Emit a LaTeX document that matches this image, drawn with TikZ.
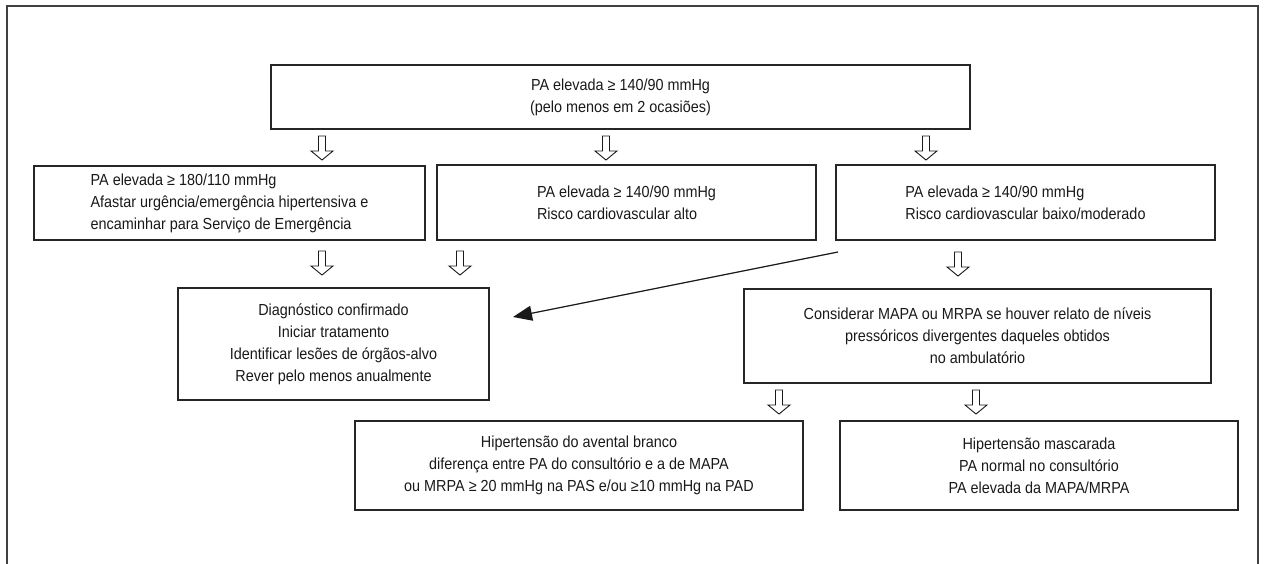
\documentclass[tikz,border=0pt]{standalone}
\usepackage{fontspec}
\setmainfont{Liberation Sans}[FakeStretch=0.9]
\usetikzlibrary{arrows.meta}
\tikzset{
  box/.style={draw=black!85, line width=1.2pt, align=center, inner sep=0pt,
    font=\fontsize{16}{22}\selectfont, text=black!90},
  lbox/.style={box, align=left},
  frame/.style={draw=black!75, line width=1.3pt},
  hol/.style={draw=black!90, line width=0.9pt, fill=white, line join=miter},
  diag/.style={draw=black!90, line width=1.2pt, -{Triangle[length=19pt,width=15pt]}}
}
\newcommand\hollowarrow[1]{%
  \path[hol] (#1) ++(-3.5,0) -- ++(7,0) -- ++(0,15) -- ++(7.5,0) -- ++(-11,9)
     -- ++(-11,-9) -- ++(7.5,0) -- cycle;}
\begin{document}
\begin{tikzpicture}[x=1pt,y=-1pt]
\useasboundingbox (0,0) rectangle (1266,564);
\draw[frame] (7,564) -- (7,6) -- (1258,6) -- (1258,564);

\node[box, minimum width=699pt, minimum height=64pt] (top) at (620.5,97)
  {PA elevada ≥ 140/90 mmHg\\(pelo menos em 2 ocasiões)};

\node[lbox, minimum width=391pt, minimum height=74pt] (a) at (229.5,203)
  {PA elevada ≥ 180/110 mmHg\\Afastar urgência/emergência hipertensiva e\\encaminhar para Serviço de Emergência};
\node[lbox, minimum width=379pt, minimum height=75pt] (b) at (626.5,202.5)
  {PA elevada ≥ 140/90 mmHg\\Risco cardiovascular alto};
\node[lbox, minimum width=379pt, minimum height=75pt] (c) at (1025.5,202.5)
  {PA elevada ≥ 140/90 mmHg\\Risco cardiovascular baixo/moderado};

\node[box, minimum width=311pt, minimum height=112pt] (d) at (333.5,344)
  {Diagnóstico confirmado\\Iniciar tratamento\\Identificar lesões de órgãos-alvo\\Rever pelo menos anualmente};
\node[box, minimum width=467pt, minimum height=94pt] (e) at (977.5,336)
  {Considerar MAPA ou MRPA se houver relato de níveis\\pressóricos divergentes daqueles obtidos\\no ambulatório};

\node[box, minimum width=448pt, minimum height=89pt] (f) at (579,465.5)
  {Hipertensão do avental branco\\diferença entre PA do consultório e a de MAPA\\ou MRPA ≥ 20 mmHg na PAS e/ou ≥10 mmHg na PAD};
\node[box, minimum width=398pt, minimum height=89pt] (g) at (1039,465.5)
  {Hipertensão mascarada\\PA normal no consultório\\PA elevada da MAPA/MRPA};

\coordinate (h1) at (322,136);
\coordinate (h2) at (606,136);
\coordinate (h3) at (926,136);
\coordinate (h4) at (322,251);
\coordinate (h5) at (460,251);
\coordinate (h6) at (958,252);
\coordinate (h7) at (779,390);
\coordinate (h8) at (976,390);
\foreach \h in {h1,h2,h3,h4,h5,h6,h7,h8} {\hollowarrow{\h}}

\coordinate (ds) at (838,252);
\coordinate (de) at (513,317);
\draw[diag] (ds) -- (de);
\end{tikzpicture}
\end{document}
